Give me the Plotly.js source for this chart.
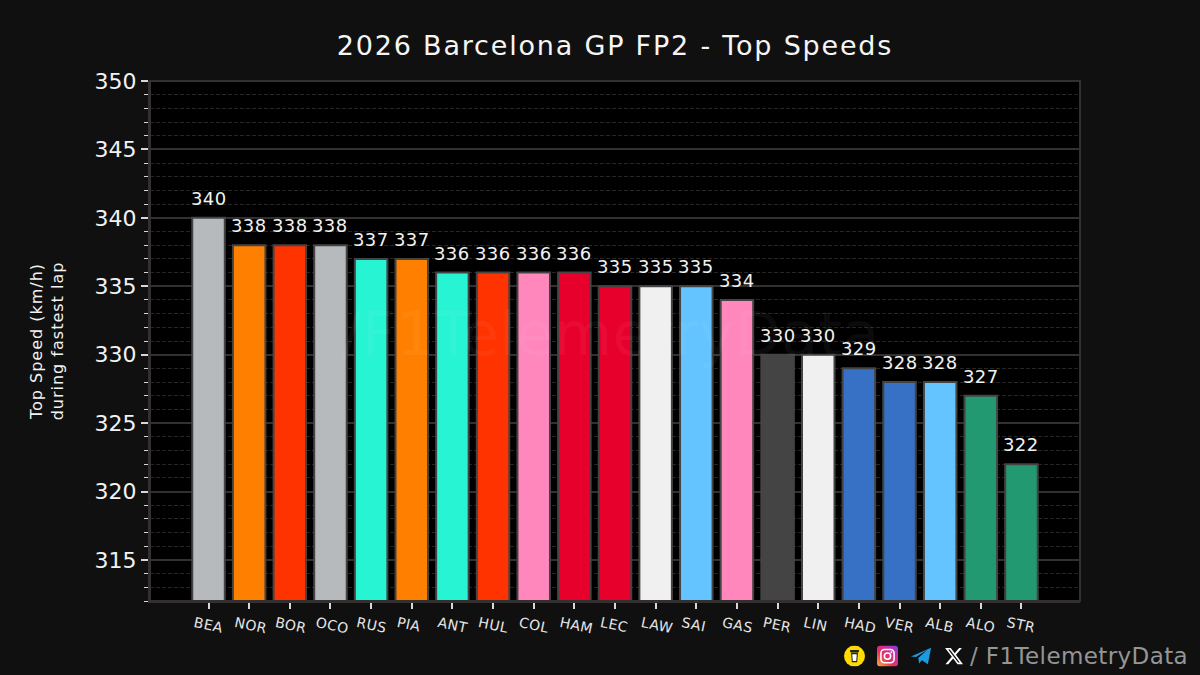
<!DOCTYPE html>
<html>
<head>
<meta charset="utf-8">
<script src="https://cdn.plot.ly/plotly-3.0.1.min.js"></script>
<style>
  html, body { margin: 0; padding: 0; background: #101010; }
  #chart { width: 1200px; height: 675px; }
  /* the original uses a wide font, spacing gets us closer */
  .gtitle { letter-spacing: 1.8px; }
  .ytitle { letter-spacing: 1px; }
  .annotation-text { letter-spacing: 0.4px; }
  .xtick text { letter-spacing: 0.5px; }
</style>
</head>
<body>
<div id="chart"></div>
<script>
const drivers = ["BEA","NOR","BOR","OCO","RUS","PIA","ANT","HUL","COL","HAM","LEC","LAW","SAI","GAS","PER","LIN","HAD","VER","ALB","ALO","STR"];
const topSpeeds = [340,338,338,338,337,337,336,336,336,336,335,335,335,334,330,330,329,328,328,327,322];
const barColors = ["#b6babd","#ff8000","#ff3300","#b6babd","#27f4d2","#ff8000","#27f4d2","#ff3300","#ff87bc","#e8002d","#e8002d","#f0f0f0","#64c4ff","#ff87bc","#444444","#f0f0f0","#3671c6","#3671c6","#64c4ff","#229971","#229971"];
const yTicks = [315,320,325,330,335,340,345,350];

const font = "'DejaVu Sans', sans-serif";

// footer icons, drawn as little svgs
const svgUri = (s) => "data:image/svg+xml;utf8," + encodeURIComponent(s);
const coffeeIcon = svgUri('<svg xmlns="http://www.w3.org/2000/svg" viewBox="0 0 24 24"><circle cx="12" cy="12" r="12" fill="#ffdd00"/><path d="M7 5h10v2.5H7z" fill="#222"/><path d="M8 8h8l-1 11H9z" fill="#222"/><path d="M9.4 10h5.2l-.6 7.5h-4z" fill="#fff"/></svg>');
const instaIcon = svgUri('<svg xmlns="http://www.w3.org/2000/svg" viewBox="0 0 24 24"><defs><linearGradient id="g" x1="0" y1="1" x2="1" y2="0"><stop offset="0" stop-color="#fdb13a"/><stop offset=".4" stop-color="#e8305c"/><stop offset=".75" stop-color="#c22fb0"/><stop offset="1" stop-color="#6a4be0"/></linearGradient></defs><rect width="24" height="24" rx="4" fill="url(#g)"/><rect x="4.5" y="4.5" width="15" height="15" rx="4" fill="none" stroke="#fff" stroke-width="1.8"/><circle cx="12" cy="12" r="3.6" fill="none" stroke="#fff" stroke-width="1.8"/><circle cx="16.5" cy="7.5" r="1.1" fill="#fff"/></svg>');
const telegramIcon = svgUri('<svg xmlns="http://www.w3.org/2000/svg" viewBox="0 0 24 24"><path d="M1 12.5 23 3l-3.5 18-6.5-4.5-3 3.5-1-6 10-9-12.5 8z" fill="#1d9be0"/></svg>');
const xIcon = svgUri('<svg xmlns="http://www.w3.org/2000/svg" viewBox="0 0 24 24"><path d="M18.2 2.3h3.3l-7.2 8.2 8.5 11.2h-6.6l-5.2-6.8-6 6.8H1.7l7.7-8.8L1.3 2.3h6.8l4.7 6.2zm-1.2 17.4h1.8L7 4.2H5z" fill="#fff"/></svg>');

const speedLabels = drivers.map((d, i) => ({
  x: d, y: topSpeeds[i], xref: "x", yref: "y",
  text: String(topSpeeds[i]), showarrow: false,
  yanchor: "bottom", yshift: 7,
  font: { family: font, size: 18, color: "#f2f2f2" }
}));

const trace = {
  type: "bar",
  x: drivers,
  y: topSpeeds,
  width: 0.8,
  marker: { color: barColors, line: { color: "#444444", width: 2 } },
  hoverinfo: "x+y"
};

const layout = {
  width: 1200,
  height: 675,
  margin: { l: 150, r: 120, t: 81, b: 74 },
  paper_bgcolor: "#101010",
  plot_bgcolor: "#000000",
  showlegend: false,
  title: {
    text: "2026 Barcelona GP FP2 - Top Speeds",
    x: 0.5, xref: "paper", xanchor: "center", y: 0.932, yanchor: "middle",
    font: { family: font, size: 27, color: "#f5f5f5" }
  },
  xaxis: {
    type: "category",
    categoryorder: "array",
    categoryarray: drivers,
    range: [-1.44, 21.44],
    tickangle: 12,
    ticks: "outside", ticklen: 6, tickwidth: 1.5, tickcolor: "#d8d8d8",
    ticklabelshift: -14,
    ticklabelstandoff: 1,
    tickfont: { family: font, size: 14, color: "#e6e6e6" },
    showgrid: false, zeroline: false,
    showline: true, linecolor: "#353030", linewidth: 2
  },
  yaxis: {
    range: [312, 350],
    tickmode: "array",
    tickvals: yTicks,
    ticks: "outside", ticklen: 7, tickwidth: 1.5, tickcolor: "#d8d8d8",
    tickfont: { family: font, size: 22, color: "#f2f2f2" },
    showgrid: true, gridcolor: "#353030", gridwidth: 2,
    zeroline: false,
    showline: true, linecolor: "#353030", linewidth: 2,
    minor: {
      dtick: 1, showgrid: true, gridcolor: "#262626", gridwidth: 1, griddash: "4px,2px",
      ticks: "outside", ticklen: 4, tickwidth: 1, tickcolor: "#d8d8d8"
    },
    title: {
      text: "Top Speed (km/h)<br>during fastest lap",
      standoff: 27,
      font: { family: font, size: 16, color: "#f2f2f2" }
    }
  },
  shapes: [
    { type: "rect", xref: "paper", yref: "paper", x0: 0, x1: 1, y0: 0, y1: 1, line: { color: "#353030", width: 2 }, fillcolor: "rgba(0,0,0,0)" }
  ],
  annotations: speedLabels.concat([
    { xref: "paper", yref: "paper", x: 0.495, y: 0.5, yanchor: "middle", yshift: 7, showarrow: false,
      text: "/F1TelemetryData", font: { family: font, size: 60, color: "rgba(255,255,255,0.045)" } },
    { xref: "paper", yref: "paper", x: 1.118, y: -0.106, xanchor: "right", yanchor: "middle", showarrow: false,
      text: "/ F1TelemetryData", font: { family: font, size: 23, color: "#959595" } }
  ]),
  images: [
    { source: coffeeIcon, x: 844, w: 21 },
    { source: instaIcon, x: 877, w: 21 },
    { source: telegramIcon, x: 910, w: 22 },
    { source: xIcon, x: 944, w: 20 }
  ].map((ic) => ({
    source: ic.source, xref: "paper", yref: "paper",
    x: (ic.x - 150) / 930, y: -0.106,
    sizex: ic.w / 930, sizey: ic.w / 520,
    xanchor: "left", yanchor: "middle", sizing: "contain", layer: "above"
  }))
};

Plotly.newPlot("chart", [trace], layout, { displayModeBar: false, responsive: false });
</script>
</body>
</html>
